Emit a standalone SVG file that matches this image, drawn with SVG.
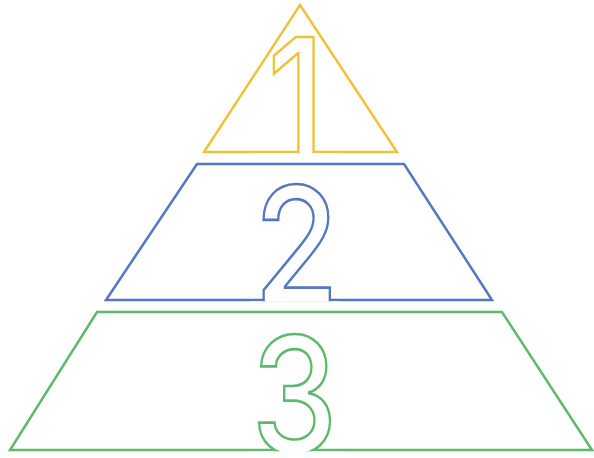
<svg xmlns="http://www.w3.org/2000/svg" width="594" height="458" viewBox="0 0 594 458">
<style>
.shape{fill:none;stroke-width:2.5;stroke-linejoin:miter}
.digit{font-family:Inter,"Liberation Sans",sans-serif;font-weight:500;font-size:162px;fill:#fff;stroke-width:2.7;text-anchor:middle}
.cover{fill:#fff}
.y{stroke:#F0C23C}
.b{stroke:#5577C2}
.g{stroke:#5DB96C}
</style>
<rect width="594" height="458" fill="#fff"/>
<g id="level1">
<polygon class="shape y" points="300,5 397,152 204,152"/>
<text class="digit y" transform="translate(296,155) scale(0.85,1)">1</text>
<rect class="cover" x="250" y="153.3" width="90" height="6"/>
</g>
<g id="level2">
<polygon class="shape b" points="197,164 404,164 492,300 106,300"/>
<text class="digit b" transform="translate(296.5,303) scale(0.85,1)">2</text>
<rect class="cover" x="250" y="301.3" width="90" height="6"/>
</g>
<g id="level3">
<polygon class="shape g" points="97,312 502,312 592,450 10,450"/>
<text class="digit g" transform="translate(294.5,453) scale(0.85,1)">3</text>
<rect class="cover" x="250" y="451.3" width="90" height="6"/>
</g>
</svg>
